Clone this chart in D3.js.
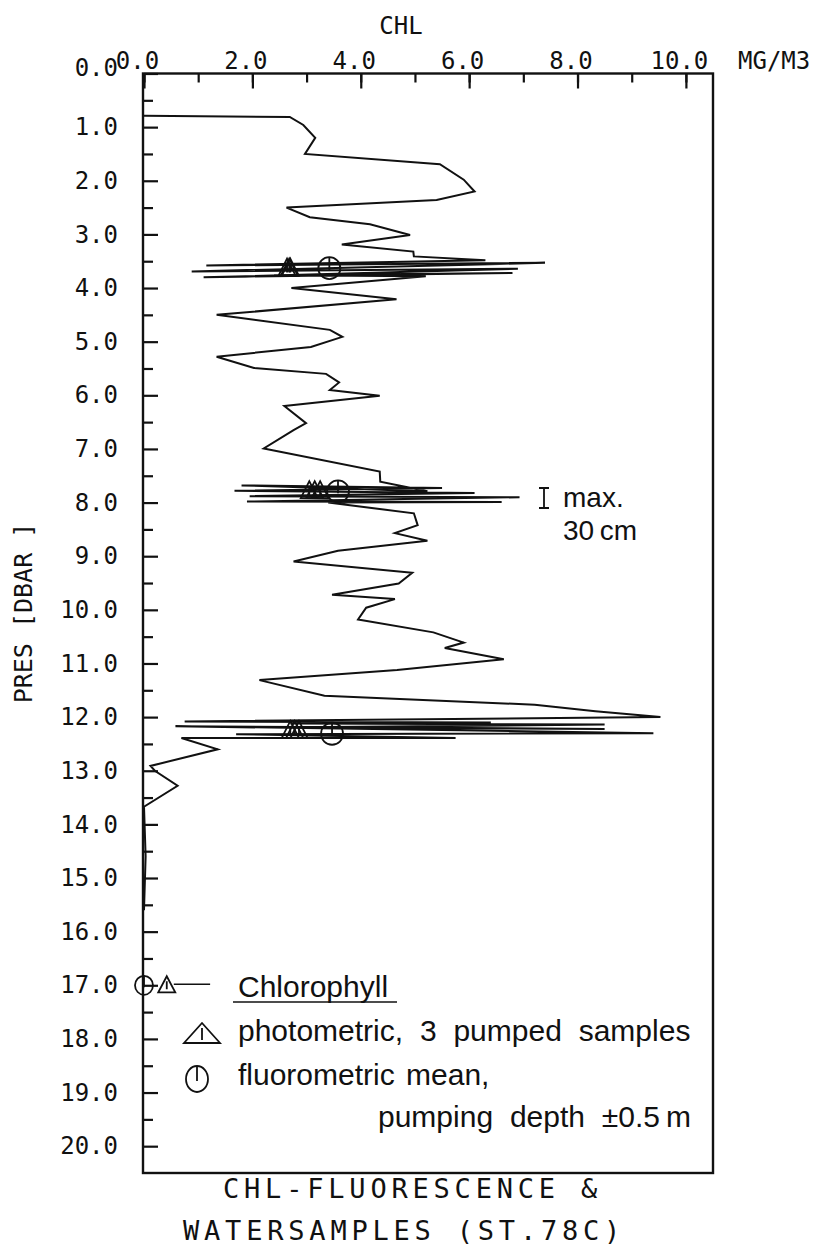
<!DOCTYPE html>
<html><head><meta charset="utf-8">
<script src="https://cdn.jsdelivr.net/npm/d3@7"></script>
<style>body{margin:0;background:#fff}svg{display:block}</style>
</head><body>
<svg id="c" width="828" height="1249"></svg>
<script>
// ---- data ----
const tracePres = [0.79,0.81,0.96,1.20,1.50,1.69,1.98,2.20,2.36,2.50,2.68,2.81,3.01,3.19,3.32,3.41,
  3.48,3.58,3.53,3.69,3.64,3.80,3.72,3.76,3.78,4.00,
  4.21,4.50,4.78,4.91,5.10,5.28,5.49,5.60,5.76,5.90,6.01,6.20,6.52,6.65,6.99,7.42,7.61,7.79,
  7.68,7.73,7.78,7.82,7.88,7.90,7.98,7.99,8.00,
  8.20,8.42,8.57,8.71,8.90,9.10,9.31,9.51,9.72,9.80,9.96,10.18,10.42,10.61,10.71,10.92,11.12,11.31,11.60,11.77,11.89,12.00,
  12.08,12.10,12.12,12.14,12.19,12.22,12.17,12.30,12.32,12.39,12.39,
  12.60,12.91,13.00,13.28,13.67,14.6,15.6];
const traceChl = [0.00,2.69,2.94,3.16,2.97,5.46,5.90,6.10,5.40,2.63,3.06,4.17,4.91,3.65,4.97,4.98,
  6.3,1.15,7.4,0.88,6.9,1.1,6.8,2.4,5.2,2.72,
  4.66,1.34,3.43,3.66,3.08,1.34,2.03,3.36,3.60,3.43,4.35,2.59,2.99,2.76,2.21,4.35,4.36,5.23,
  1.8,5.5,1.67,6.1,1.95,6.93,1.9,6.6,3.40,
  4.98,5.05,4.63,5.23,3.58,2.76,4.95,4.70,3.47,4.63,4.10,3.95,5.34,5.90,5.55,6.64,4.67,2.13,3.33,7.21,8.33,9.53,
  0.75,6.4,2.7,8.5,2.8,8.5,0.58,9.4,1.7,5.75,0.69,
  1.36,0.12,0.20,0.62,0.00,0.03,0.00];
const photoPres = [3.61,3.61,3.61,7.76,7.76,7.76,12.23,12.23,12.23];
const photoChl  = [2.64,2.68,2.70,3.05,3.15,3.25,2.70,2.78,2.86];
const fluoPres = [3.63,7.79,12.31];
const fluoChl  = [3.42,3.58,3.47];
const xTickValues = [0,2,4,6,8,10];
const xTickLabels = ["0.0","2.0","4.0","6.0","8.0","10.0"];
const yTickValues = [0,1,2,3,4,5,6,7,8,9,10,11,12,13,14,15,16,17,18,19,20];
const yTickLabels = ["0.0","1.0","2.0","3.0","4.0","5.0","6.0","7.0","8.0","9.0","10.0","11.0","12.0","13.0","14.0","15.0","16.0","17.0","18.0","19.0","20.0"];

const svg = d3.select("#c");
const L=144, R=713, T=73.5, B=1173;
const x = d3.scaleLinear().domain([0,10.5]).range([L,R]);
const y = d3.scaleLinear().domain([0,20.5]).range([T,B]);
const mono = "'DejaVu Sans Mono', monospace";
const sans = "'Liberation Sans', Arial, sans-serif";

// frame
svg.append("rect").attr("x",x(0)-1).attr("y",T).attr("width",R-x(0)+1).attr("height",B-T)
  .attr("fill","none").attr("stroke","#111").attr("stroke-width",2.4);

// top axis minor ticks
const gxm = svg.append("g").attr("transform",`translate(0,${T})`)
  .call(d3.axisTop(x).tickValues(d3.range(0,11)).tickSizeInner(-9).tickSizeOuter(0).tickFormat(""));
const gx = svg.append("g").attr("transform",`translate(0,${T})`)
  .call(d3.axisTop(x).tickValues(xTickValues).tickSizeInner(-15).tickSizeOuter(0).tickPadding(5)
    .tickFormat((d,i)=>xTickLabels[i]));
gx.selectAll("text").attr("dx",-7);
// left axis
const gym = svg.append("g").attr("transform",`translate(${x(0)},0)`)
  .call(d3.axisLeft(y).tickValues(d3.range(0.5,20.5,1)).tickSizeInner(-9).tickSizeOuter(0).tickFormat(""));
const gy = svg.append("g").attr("transform",`translate(${x(0)},0)`)
  .call(d3.axisLeft(y).tickValues(yTickValues).tickSizeInner(-14).tickSizeOuter(0).tickPadding(26)
    .tickFormat((d,i)=>yTickLabels[i]));
gy.selectAll("text").filter(d=>d===0).attr("dy","0.1em");
[gxm,gx,gym,gy].forEach(g=>{
  g.select(".domain").remove();
  g.selectAll("line").attr("stroke","#111").attr("stroke-width",2.2);
  g.selectAll("text").attr("font-family",mono).attr("font-size",24).attr("fill","#111");
});

// axis titles
svg.append("text").attr("x",401).attr("y",34).attr("text-anchor","middle")
  .attr("font-family",mono).attr("font-size",24).attr("fill","#111").text("CHL");
svg.append("text").attr("x",738).attr("y",68.5)
  .attr("font-family",mono).attr("font-size",24).attr("fill","#111").text("MG/M3");
svg.append("text").attr("transform","translate(32,613) rotate(-90)").attr("text-anchor","middle")
  .attr("font-family",mono).attr("font-size",25).attr("fill","#111").text("PRES [DBAR ]");

// fluorescence trace
const line = d3.line().x(i=>x(traceChl[i])).y(i=>y(tracePres[i]));
svg.append("path").attr("d",line(d3.range(tracePres.length)))
  .attr("fill","none").attr("stroke","#111").attr("stroke-width",2).attr("stroke-linejoin","miter");

// markers
function tri(g,cx,cy,w,h){
  g.append("path").attr("d",`M${cx},${cy-h/2}L${cx+w/2},${cy+h/2}L${cx-w/2},${cy+h/2}Z M${cx},${cy-h/2+5}L${cx},${cy+h/2-3}`)
   .attr("fill","none").attr("stroke","#111").attr("stroke-width",1.8);
}
function circ(g,cx,cy,rx,ry){
  g.append("ellipse").attr("cx",cx).attr("cy",cy).attr("rx",rx).attr("ry",ry)
   .attr("fill","none").attr("stroke","#111").attr("stroke-width",1.8);
  g.append("line").attr("x1",cx).attr("x2",cx).attr("y1",cy-ry).attr("y2",cy+2)
   .attr("stroke","#111").attr("stroke-width",1.8);
}
const gm = svg.append("g");
photoPres.forEach((p,i)=>tri(gm,x(photoChl[i]),y(p),17,17));
fluoPres.forEach((p,i)=>circ(gm,x(fluoChl[i]),y(p),11,11));

// legend symbols at 17 dbar
circ(gm,x(0),y(17),9,9.5);
tri(gm,x(0.42),y(17)-1,17,16);
svg.append("line").attr("x1",x(0.55)).attr("x2",x(1.22)).attr("y1",y(17)-1).attr("y2",y(17)-1)
  .attr("stroke","#111").attr("stroke-width",1.6);

// legend text
svg.append("text").attr("x",238).attr("y",997).attr("font-family",sans).attr("font-size",30).attr("fill","#111").text("Chlorophyll");
svg.append("line").attr("x1",233).attr("x2",397).attr("y1",1002).attr("y2",1002).attr("stroke","#111").attr("stroke-width",1.6);
tri(svg,202,1033,36,20);
svg.append("text").attr("x",238).attr("y",1041).attr("font-family",sans).attr("font-size",30).attr("word-spacing",8.5).attr("fill","#111").text("photometric, 3 pumped samples");
circ(svg,197,1079,11,13);
svg.append("text").attr("x",238).attr("y",1085).attr("font-family",sans).attr("font-size",30).attr("word-spacing",3).attr("fill","#111").text("fluorometric mean,");
svg.append("text").attr("x",691).attr("y",1127).attr("text-anchor","end").attr("font-family",sans).attr("font-size",30).attr("word-spacing",8.5).attr("fill","#111").text("pumping depth ±0.5\u2009m");

// I max annotation
svg.append("path").attr("d","M544,488L544,508M539,488L549,488M539,508L549,508").attr("stroke","#111").attr("stroke-width",1.8);
svg.append("text").attr("x",563).attr("y",507).attr("font-family",sans).attr("font-size",28).attr("fill","#111").text("max.");
svg.append("text").attr("x",563).attr("y",540).attr("font-family",sans).attr("font-size",28).attr("fill","#111").text("30\u2009cm");

// bottom title
svg.append("text").attr("x",223).attr("y",1198).attr("font-family",mono).attr("font-size",27).attr("letter-spacing",4.8).attr("fill","#111").text("CHL-FLUORESCENCE &");
svg.append("text").attr("x",183).attr("y",1240).attr("font-family",mono).attr("font-size",27).attr("letter-spacing",4.8).attr("fill","#111").text("WATERSAMPLES (ST.78C)");
</script>
</body></html>
